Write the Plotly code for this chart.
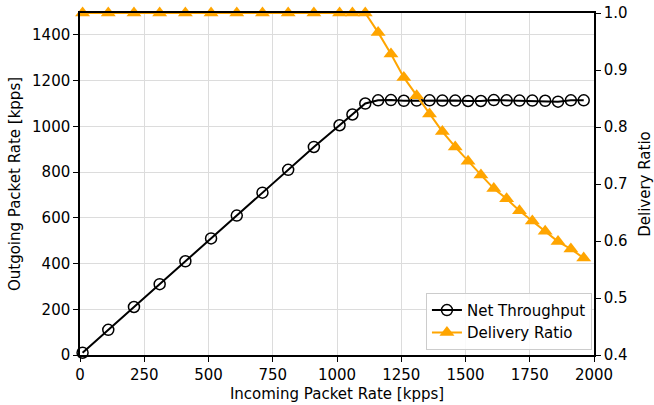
import plotly.graph_objects as go

incoming = [10, 110, 210, 310, 410, 510, 610, 710, 810, 910, 1010, 1060, 1110,
            1160, 1210, 1260, 1310, 1360, 1410, 1460, 1510, 1560, 1610, 1660,
            1710, 1760, 1810, 1860, 1910, 1960]
throughput = [10, 110, 210, 310, 410, 510, 610, 710, 810, 910, 1005, 1052, 1100,
              1114, 1115, 1112, 1113, 1114, 1113, 1113, 1111, 1111, 1115, 1114,
              1113, 1113, 1112, 1108, 1114, 1114]
delivery = [1.0, 1.0, 1.0, 1.0, 1.0, 1.0, 1.0, 1.0, 1.0, 1.0, 1.0, 1.0, 1.0,
            0.966, 0.928, 0.887, 0.855, 0.823, 0.792, 0.765, 0.740, 0.716, 0.692,
            0.674, 0.653, 0.635, 0.617, 0.599, 0.586, 0.570]

x_ticks = [0, 250, 500, 750, 1000, 1250, 1500, 1750, 2000]
y_ticks = [0, 200, 400, 600, 800, 1000, 1200, 1400]
y2_ticks = [0.4, 0.5, 0.6, 0.7, 0.8, 0.9, 1.0]

font = "DejaVu Sans"
fs = 15
fig = go.Figure()
fig.add_trace(go.Scatter(
    x=incoming, y=throughput, name="Net Throughput", mode="lines+markers",
    line=dict(color="black", width=2),
    marker=dict(symbol="circle-open", size=11, color="black", line=dict(width=1.5)),
    cliponaxis=False,
))
fig.add_trace(go.Scatter(
    x=incoming, y=delivery, name="Delivery Ratio", mode="lines+markers",
    yaxis="y2",
    line=dict(color="orange", width=2),
    marker=dict(symbol="triangle-up", size=13, color="orange"),
    cliponaxis=False,
))

axis_common = dict(
    showline=True, linecolor="black", linewidth=1.5,
    ticks="outside", ticklen=5, tickwidth=1.2, tickcolor="black",
    tickfont=dict(family=font, size=fs, color="black"),
    zeroline=False, automargin=False,
)
fig.update_layout(
    width=654, height=405,
    margin=dict(l=80, r=60, t=13, b=50),
    paper_bgcolor="white", plot_bgcolor="white",
    font=dict(family=font, size=fs, color="black"),
    xaxis=dict(range=[0, 2000], tickvals=x_ticks, showgrid=True, gridcolor="#dcdcdc",
               gridwidth=1.2, mirror=True,
               title=dict(text="Incoming Packet Rate [kpps]", font=dict(family=font, size=fs), standoff=6),
               **axis_common),
    yaxis=dict(range=[0, 1496], tickvals=y_ticks, showgrid=True, gridcolor="#dcdcdc",
               gridwidth=1.2,
               title=dict(text="Outgoing Packet Rate [kpps]", font=dict(family=font, size=fs), standoff=8),
               **axis_common),
    yaxis2=dict(range=[0.4, 1.0], tickvals=y2_ticks, ticktext=[f"{v:.1f}" for v in y2_ticks],
                overlaying="y", side="right", showgrid=False,
                title=dict(text="Delivery Ratio", font=dict(family=font, size=fs), standoff=13),
                **axis_common),
    legend=dict(x=0.996, y=0.015, xanchor="right", yanchor="bottom",
                bgcolor="rgba(255,255,255,0.85)", bordercolor="#cccccc", borderwidth=1,
                font=dict(family=font, size=fs)),
    showlegend=True,
)
fig.write_html("out.html", config={"displayModeBar": False},
               post_script="document.body.style.margin='0px';document.body.style.overflow='hidden';")
